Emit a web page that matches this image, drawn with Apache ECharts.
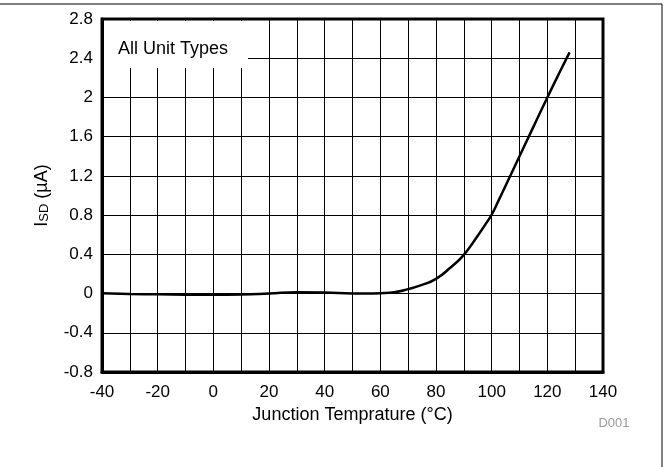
<!DOCTYPE html>
<html>
<head>
<meta charset="utf-8">
<script src="https://cdn.jsdelivr.net/npm/echarts@6/dist/echarts.min.js"></script>
<style>
html,body{margin:0;padding:0;background:#fff;}
#c{width:669px;height:467px;}
</style>
</head>
<body>
<div id="c"></div>
<script>
// Data
var temperatures = [-40, -30, -20, -10, 0, 10, 20, 30, 40, 50, 55, 60, 65, 70, 75, 80, 85, 90, 95, 97.5, 100, 102.5, 105, 110, 115, 120, 125, 128];
var isdValues = [0.003, -0.004, -0.008, -0.011, -0.012, -0.010, 0.000, 0.013, 0.010, 0.001, 0.000, 0.003, 0.013, 0.045, 0.088, 0.150, 0.260, 0.395, 0.590, 0.695, 0.805, 0.950, 1.100, 1.400, 1.700, 2.000, 2.290, 2.460];
var xTicks = [-40, -20, 0, 20, 40, 60, 80, 100, 120, 140];
var yTicks = [-0.8, -0.4, 0, 0.4, 0.8, 1.2, 1.6, 2, 2.4, 2.8];
var legendText = 'All Unit Types';
var xTitle = 'Junction Temprature (°C)';
var noteText = 'D001';

var FONT = '"Liberation Sans", Arial, sans-serif';
var chart = echarts.init(document.getElementById('c'), null, {renderer: 'canvas'});
var points = temperatures.map(function (t, i) { return [t, isdValues[i]]; });

chart.setOption({
  animation: false,
  backgroundColor: '#fff',
  grid: {
    left: 102, right: 66, top: 19, bottom: 95,
    show: true, borderColor: '#000', borderWidth: 3, backgroundColor: 'transparent', z: 3
  },
  xAxis: {
    type: 'value',
    min: xTicks[0], max: xTicks[xTicks.length - 1], interval: 20,
    name: xTitle, nameLocation: 'middle', nameGap: 31,
    nameTextStyle: {fontFamily: FONT, fontSize: 18, color: '#000'},
    axisLine: {show: true, onZero: false, lineStyle: {color: '#000', width: 3}},
    axisTick: {show: false},
    axisLabel: {fontFamily: FONT, fontSize: 17, color: '#000', margin: 12},
    splitLine: {show: true, lineStyle: {color: '#000', width: 1}},
    minorTick: {show: false, splitNumber: 2},
    minorSplitLine: {show: true, lineStyle: {color: '#000', width: 1}}
  },
  yAxis: {
    type: 'value',
    min: yTicks[0], max: yTicks[yTicks.length - 1], interval: 0.4,
    name: '{a|I}{b|SD}{a| (µA)}', nameLocation: 'middle', nameGap: 51,
    nameTextStyle: {
      fontFamily: FONT, fontSize: 18, color: '#000',
      rich: {
        a: {fontFamily: FONT, fontSize: 18, color: '#000', lineHeight: 22, verticalAlign: 'bottom'},
        b: {fontFamily: FONT, fontSize: 13, color: '#000', lineHeight: 15, verticalAlign: 'bottom'}
      }
    },
    axisLine: {show: true, onZero: false, lineStyle: {color: '#000', width: 3}},
    axisTick: {show: false},
    axisLabel: {
      fontFamily: FONT, fontSize: 17, color: '#000', margin: 9,
      formatter: function (v) { return String(Math.round(v * 10) / 10); }
    },
    splitLine: {show: true, lineStyle: {color: '#000', width: 1}}
  },
  series: [{
    type: 'line',
    data: points,
    smooth: 0.5,
    showSymbol: false,
    symbol: 'none',
    lineStyle: {color: '#000', width: 2.5},
    z: 5
  }],
  graphic: [
    {
      type: 'rect', z: 10,
      shape: {x: 104, y: 21, width: 144, height: 47},
      style: {fill: '#fff'}
    },
    {
      type: 'text', z: 11,
      x: 118, y: 49,
      style: {text: legendText, font: '18px ' + FONT, fill: '#000', verticalAlign: 'middle'}
    },
    {
      type: 'text', z: 11,
      x: 614, y: 423,
      style: {text: noteText, font: '13px ' + FONT, fill: '#999', align: 'center', verticalAlign: 'middle'}
    },
    {
      type: 'line', z: 11,
      shape: {x1: 0, y1: 4, x2: 662, y2: 4},
      style: {stroke: '#000', lineWidth: 1}
    },
    {
      type: 'line', z: 11,
      shape: {x1: 662, y1: 4, x2: 662, y2: 467},
      style: {stroke: '#000', lineWidth: 1}
    }
  ]
});
</script>
</body>
</html>
